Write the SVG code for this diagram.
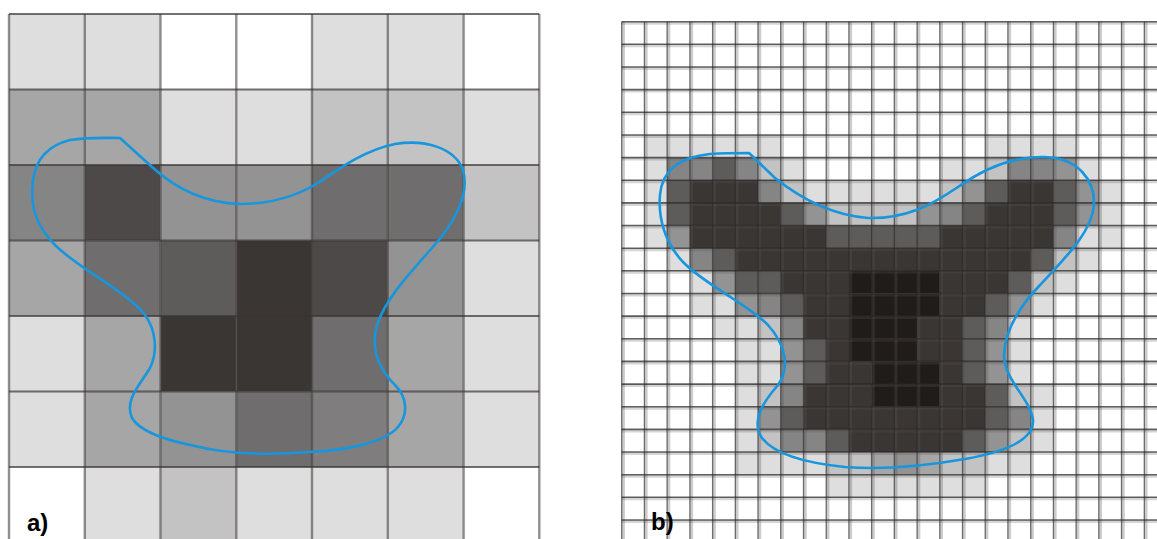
<svg xmlns="http://www.w3.org/2000/svg" width="1157" height="539" viewBox="0 0 1157 539">
<style>
.w{fill:#ffffff}.l{fill:#dedede}.m1{fill:#c3c3c3}.m2{fill:#a6a6a6}.m3{fill:#939393}.m4{fill:#858585}.g6{fill:#6f6d6d}.g7{fill:#7f7d7d}.m5{fill:#5e5c5b}.g4{fill:#4d4948}.d{fill:#3a3633}.v{fill:#201c1a}
.vb{fill:none;stroke:#5a5656;stroke-opacity:0.3;stroke-width:3.4}
.vl{fill:none;stroke:#2a2626;stroke-opacity:0.62;stroke-width:1.3}
.hb{fill:none;stroke:#5a5656;stroke-opacity:0.25;stroke-width:3}
.hl{fill:none;stroke:#2a2626;stroke-opacity:0.72;stroke-width:1.6}
.lvl{fill:none;stroke:#4a4545;stroke-opacity:0.6;stroke-width:2.4}
.lhl{fill:none;stroke:#3a3535;stroke-opacity:0.7;stroke-width:2}
.curve{fill:none;stroke:#1796de;stroke-width:2.6;stroke-linejoin:round}
.lbl{font-family:"Liberation Sans",Arial,sans-serif;font-weight:bold;font-size:24px;fill:#000}
</style>
<rect x="0" y="0" width="1157" height="539" fill="#ffffff"/>
<g id="panel-a">
<g id="cells-a">
<rect class="l" x="9" y="14" width="75.8" height="75.5"/><rect class="l" x="84.8" y="14" width="75.8" height="75.5"/><rect class="w" x="160.5" y="14" width="75.8" height="75.5"/><rect class="w" x="236.3" y="14" width="75.8" height="75.5"/><rect class="l" x="312" y="14" width="75.8" height="75.5"/><rect class="l" x="387.8" y="14" width="75.8" height="75.5"/><rect class="w" x="463.6" y="14" width="75.8" height="75.5"/>
<rect class="m2" x="9" y="89.5" width="75.8" height="75.5"/><rect class="m2" x="84.8" y="89.5" width="75.8" height="75.5"/><rect class="l" x="160.5" y="89.5" width="75.8" height="75.5"/><rect class="l" x="236.3" y="89.5" width="75.8" height="75.5"/><rect class="m1" x="312" y="89.5" width="75.8" height="75.5"/><rect class="m1" x="387.8" y="89.5" width="75.8" height="75.5"/><rect class="l" x="463.6" y="89.5" width="75.8" height="75.5"/>
<rect class="m4" x="9" y="165" width="75.8" height="75.5"/><rect class="g4" x="84.8" y="165" width="75.8" height="75.5"/><rect class="m3" x="160.5" y="165" width="75.8" height="75.5"/><rect class="m3" x="236.3" y="165" width="75.8" height="75.5"/><rect class="g6" x="312" y="165" width="75.8" height="75.5"/><rect class="g6" x="387.8" y="165" width="75.8" height="75.5"/><rect class="m1" x="463.6" y="165" width="75.8" height="75.5"/>
<rect class="m2" x="9" y="240.5" width="75.8" height="75.5"/><rect class="g6" x="84.8" y="240.5" width="75.8" height="75.5"/><rect class="m5" x="160.5" y="240.5" width="75.8" height="75.5"/><rect class="d" x="236.3" y="240.5" width="75.8" height="75.5"/><rect class="g4" x="312" y="240.5" width="75.8" height="75.5"/><rect class="m3" x="387.8" y="240.5" width="75.8" height="75.5"/><rect class="l" x="463.6" y="240.5" width="75.8" height="75.5"/>
<rect class="l" x="9" y="316" width="75.8" height="75.5"/><rect class="m2" x="84.8" y="316" width="75.8" height="75.5"/><rect class="d" x="160.5" y="316" width="75.8" height="75.5"/><rect class="d" x="236.3" y="316" width="75.8" height="75.5"/><rect class="g6" x="312" y="316" width="75.8" height="75.5"/><rect class="m2" x="387.8" y="316" width="75.8" height="75.5"/><rect class="l" x="463.6" y="316" width="75.8" height="75.5"/>
<rect class="l" x="9" y="391.5" width="75.8" height="75.5"/><rect class="m2" x="84.8" y="391.5" width="75.8" height="75.5"/><rect class="m3" x="160.5" y="391.5" width="75.8" height="75.5"/><rect class="g6" x="236.3" y="391.5" width="75.8" height="75.5"/><rect class="g7" x="312" y="391.5" width="75.8" height="75.5"/><rect class="m2" x="387.8" y="391.5" width="75.8" height="75.5"/><rect class="l" x="463.6" y="391.5" width="75.8" height="75.5"/>
<rect class="w" x="9" y="467" width="75.8" height="72"/><rect class="l" x="84.8" y="467" width="75.8" height="72"/><rect class="m1" x="160.5" y="467" width="75.8" height="72"/><rect class="l" x="236.3" y="467" width="75.8" height="72"/><rect class="l" x="312" y="467" width="75.8" height="72"/><rect class="l" x="387.8" y="467" width="75.8" height="72"/><rect class="w" x="463.6" y="467" width="75.8" height="72"/>
</g>
<path class="lvl" d="M9 14V539M84.8 14V539M160.5 14V539M236.3 14V539M312 14V539M387.8 14V539M463.6 14V539M539.3 14V539"/>
<path class="lhl" d="M9 14H539.3M9 89.5H539.3M9 165H539.3M9 240.5H539.3M9 316H539.3M9 391.5H539.3M9 467H539.3"/>
<path class="curve" d="M120 138 L152 167 C175 188 205 203 240 204 C275 204 300 194 318 183 C340 168 365 150 395 144 C425 139 455 148 463 170 C470 195 455 222 432 248 C408 275 385 300 377 325 C370 350 380 370 395 385 C408 398 408 415 398 427 C385 442 350 450 310 452 C270 455 230 455 195 446 C165 440 140 432 132 418 C124 400 140 385 150 368 C158 352 156 330 145 315 C125 290 80 270 55 245 C35 225 30 205 33 180 C36 158 50 145 70 140 C90 137 105 138 120 138 Z"/>
<text class="lbl" x="27" y="531">a)</text>
</g>
<g id="panel-b">
<g id="cells-b">
<rect class="l" x="644.4" y="135" width="136.3" height="22.7"/><rect class="l" x="985.2" y="135" width="90.9" height="22.7"/>
<rect class="l" x="644.4" y="157.6" width="22.7" height="22.7"/><rect class="m4" x="667.1" y="157.6" width="45.4" height="22.7"/><rect class="m5" x="712.6" y="157.6" width="22.7" height="22.7"/><rect class="m4" x="735.3" y="157.6" width="22.7" height="22.7"/><rect class="m1" x="758" y="157.6" width="22.7" height="22.7"/><rect class="l" x="780.7" y="157.6" width="22.7" height="22.7"/><rect class="l" x="939.8" y="157.6" width="45.4" height="22.7"/><rect class="m1" x="985.2" y="157.6" width="22.7" height="22.7"/><rect class="m4" x="1007.9" y="157.6" width="45.4" height="22.7"/><rect class="m3" x="1053.4" y="157.6" width="22.7" height="22.7"/><rect class="l" x="1076.1" y="157.6" width="22.7" height="22.7"/>
<rect class="l" x="644.4" y="180.2" width="22.7" height="22.7"/><rect class="m5" x="667.1" y="180.2" width="22.7" height="22.7"/><rect class="d" x="689.9" y="180.2" width="68.2" height="22.7"/><rect class="m4" x="758" y="180.2" width="22.7" height="22.7"/><rect class="m1" x="780.7" y="180.2" width="22.7" height="22.7"/><rect class="l" x="803.5" y="180.2" width="136.3" height="22.7"/><rect class="m1" x="939.8" y="180.2" width="22.7" height="22.7"/><rect class="m3" x="962.5" y="180.2" width="22.7" height="22.7"/><rect class="m5" x="985.2" y="180.2" width="22.7" height="22.7"/><rect class="d" x="1007.9" y="180.2" width="45.4" height="22.7"/><rect class="m5" x="1053.4" y="180.2" width="22.7" height="22.7"/><rect class="m3" x="1076.1" y="180.2" width="22.7" height="22.7"/><rect class="l" x="1098.8" y="180.2" width="22.7" height="22.7"/>
<rect class="l" x="644.4" y="202.9" width="22.7" height="22.7"/><rect class="m5" x="667.1" y="202.9" width="22.7" height="22.7"/><rect class="d" x="689.9" y="202.9" width="90.9" height="22.7"/><rect class="m5" x="780.7" y="202.9" width="22.7" height="22.7"/><rect class="m3" x="803.5" y="202.9" width="22.7" height="22.7"/><rect class="m1" x="826.2" y="202.9" width="90.9" height="22.7"/><rect class="m3" x="917.1" y="202.9" width="22.7" height="22.7"/><rect class="m4" x="939.8" y="202.9" width="22.7" height="22.7"/><rect class="m5" x="962.5" y="202.9" width="22.7" height="22.7"/><rect class="d" x="985.2" y="202.9" width="68.2" height="22.7"/><rect class="m5" x="1053.4" y="202.9" width="22.7" height="22.7"/><rect class="m3" x="1076.1" y="202.9" width="22.7" height="22.7"/><rect class="l" x="1098.8" y="202.9" width="22.7" height="22.7"/>
<rect class="l" x="644.4" y="225.5" width="22.7" height="22.7"/><rect class="m3" x="667.1" y="225.5" width="22.7" height="22.7"/><rect class="d" x="689.9" y="225.5" width="136.3" height="22.7"/><rect class="m5" x="826.2" y="225.5" width="113.6" height="22.7"/><rect class="d" x="939.8" y="225.5" width="113.6" height="22.7"/><rect class="m4" x="1053.4" y="225.5" width="22.7" height="22.7"/><rect class="l" x="1076.1" y="225.5" width="45.4" height="22.7"/>
<rect class="l" x="667.1" y="248.2" width="22.7" height="22.7"/><rect class="m4" x="689.9" y="248.2" width="22.7" height="22.7"/><rect class="m5" x="712.6" y="248.2" width="22.7" height="22.7"/><rect class="d" x="735.3" y="248.2" width="295.4" height="22.7"/><rect class="m5" x="1030.7" y="248.2" width="22.7" height="22.7"/><rect class="m1" x="1053.4" y="248.2" width="22.7" height="22.7"/><rect class="l" x="1076.1" y="248.2" width="22.7" height="22.7"/>
<rect class="l" x="689.9" y="270.8" width="22.7" height="22.7"/><rect class="m3" x="712.6" y="270.8" width="22.7" height="22.7"/><rect class="m5" x="735.3" y="270.8" width="45.4" height="22.7"/><rect class="d" x="780.7" y="270.8" width="68.2" height="22.7"/><rect class="v" x="848.9" y="270.8" width="90.9" height="22.7"/><rect class="d" x="939.8" y="270.8" width="68.2" height="22.7"/><rect class="m5" x="1007.9" y="270.8" width="22.7" height="22.7"/><rect class="m1" x="1030.7" y="270.8" width="22.7" height="22.7"/><rect class="l" x="1053.4" y="270.8" width="22.7" height="22.7"/>
<rect class="l" x="689.9" y="293.5" width="45.4" height="22.7"/><rect class="m3" x="735.3" y="293.5" width="22.7" height="22.7"/><rect class="m4" x="758" y="293.5" width="22.7" height="22.7"/><rect class="m5" x="780.7" y="293.5" width="22.7" height="22.7"/><rect class="d" x="803.5" y="293.5" width="45.4" height="22.7"/><rect class="v" x="848.9" y="293.5" width="90.9" height="22.7"/><rect class="d" x="939.8" y="293.5" width="45.4" height="22.7"/><rect class="m5" x="985.2" y="293.5" width="22.7" height="22.7"/><rect class="m3" x="1007.9" y="293.5" width="22.7" height="22.7"/><rect class="l" x="1030.7" y="293.5" width="22.7" height="22.7"/>
<rect class="l" x="712.6" y="316.1" width="45.4" height="22.7"/><rect class="m1" x="758" y="316.1" width="22.7" height="22.7"/><rect class="m4" x="780.7" y="316.1" width="22.7" height="22.7"/><rect class="d" x="803.5" y="316.1" width="45.4" height="22.7"/><rect class="v" x="848.9" y="316.1" width="68.2" height="22.7"/><rect class="d" x="917.1" y="316.1" width="45.4" height="22.7"/><rect class="m5" x="962.5" y="316.1" width="22.7" height="22.7"/><rect class="m4" x="985.2" y="316.1" width="22.7" height="22.7"/><rect class="l" x="1007.9" y="316.1" width="22.7" height="22.7"/>
<rect class="l" x="735.3" y="338.8" width="45.4" height="22.7"/><rect class="m3" x="780.7" y="338.8" width="22.7" height="22.7"/><rect class="m5" x="803.5" y="338.8" width="22.7" height="22.7"/><rect class="d" x="826.2" y="338.8" width="22.7" height="22.7"/><rect class="v" x="848.9" y="338.8" width="68.2" height="22.7"/><rect class="d" x="917.1" y="338.8" width="45.4" height="22.7"/><rect class="m5" x="962.5" y="338.8" width="22.7" height="22.7"/><rect class="m3" x="985.2" y="338.8" width="22.7" height="22.7"/><rect class="l" x="1007.9" y="338.8" width="22.7" height="22.7"/>
<rect class="l" x="735.3" y="361.4" width="45.4" height="22.7"/><rect class="m3" x="780.7" y="361.4" width="22.7" height="22.7"/><rect class="m5" x="803.5" y="361.4" width="22.7" height="22.7"/><rect class="d" x="826.2" y="361.4" width="45.4" height="22.7"/><rect class="v" x="871.6" y="361.4" width="68.2" height="22.7"/><rect class="d" x="939.8" y="361.4" width="22.7" height="22.7"/><rect class="m5" x="962.5" y="361.4" width="22.7" height="22.7"/><rect class="m3" x="985.2" y="361.4" width="22.7" height="22.7"/><rect class="l" x="1007.9" y="361.4" width="22.7" height="22.7"/>
<rect class="l" x="735.3" y="384.1" width="22.7" height="22.7"/><rect class="m1" x="758" y="384.1" width="22.7" height="22.7"/><rect class="m4" x="780.7" y="384.1" width="22.7" height="22.7"/><rect class="d" x="803.5" y="384.1" width="68.2" height="22.7"/><rect class="v" x="871.6" y="384.1" width="68.2" height="22.7"/><rect class="d" x="939.8" y="384.1" width="45.4" height="22.7"/><rect class="m5" x="985.2" y="384.1" width="22.7" height="22.7"/><rect class="m1" x="1007.9" y="384.1" width="22.7" height="22.7"/><rect class="l" x="1030.7" y="384.1" width="22.7" height="22.7"/>
<rect class="l" x="735.3" y="406.7" width="22.7" height="22.7"/><rect class="m3" x="758" y="406.7" width="22.7" height="22.7"/><rect class="m5" x="780.7" y="406.7" width="22.7" height="22.7"/><rect class="d" x="803.5" y="406.7" width="181.8" height="22.7"/><rect class="m5" x="985.2" y="406.7" width="22.7" height="22.7"/><rect class="m4" x="1007.9" y="406.7" width="22.7" height="22.7"/><rect class="l" x="1030.7" y="406.7" width="22.7" height="22.7"/>
<rect class="l" x="735.3" y="429.4" width="22.7" height="22.7"/><rect class="m1" x="758" y="429.4" width="22.7" height="22.7"/><rect class="m4" x="780.7" y="429.4" width="45.4" height="22.7"/><rect class="m5" x="826.2" y="429.4" width="22.7" height="22.7"/><rect class="d" x="848.9" y="429.4" width="113.6" height="22.7"/><rect class="m5" x="962.5" y="429.4" width="22.7" height="22.7"/><rect class="m3" x="985.2" y="429.4" width="22.7" height="22.7"/><rect class="m1" x="1007.9" y="429.4" width="22.7" height="22.7"/><rect class="l" x="1030.7" y="429.4" width="22.7" height="22.7"/>
<rect class="l" x="735.3" y="452" width="90.9" height="22.7"/><rect class="m1" x="826.2" y="452" width="45.4" height="22.7"/><rect class="m2" x="871.6" y="452" width="22.7" height="22.7"/><rect class="m3" x="894.3" y="452" width="22.7" height="22.7"/><rect class="m2" x="917.1" y="452" width="22.7" height="22.7"/><rect class="m1" x="939.8" y="452" width="45.4" height="22.7"/><rect class="l" x="985.2" y="452" width="45.4" height="22.7"/>
<rect class="l" x="826.2" y="474.7" width="159" height="22.7"/>
</g>
<path class="vb" d="M623.2 21.7V539M645.9 21.7V539M668.6 21.7V539M691.4 21.7V539M714.1 21.7V539M736.8 21.7V539M759.5 21.7V539M782.2 21.7V539M805 21.7V539M827.7 21.7V539M850.4 21.7V539M873.1 21.7V539M895.8 21.7V539M918.6 21.7V539M941.3 21.7V539M964 21.7V539M986.7 21.7V539M1009.4 21.7V539M1032.2 21.7V539M1054.9 21.7V539M1077.6 21.7V539M1100.3 21.7V539M1123 21.7V539M1145.8 21.7V539"/>
<path class="hb" d="M621.7 23.2H1157M621.7 45.8H1157M621.7 68.5H1157M621.7 91.1H1157M621.7 113.8H1157M621.7 136.5H1157M621.7 159.1H1157M621.7 181.7H1157M621.7 204.4H1157M621.7 227H1157M621.7 249.7H1157M621.7 272.3H1157M621.7 295H1157M621.7 317.6H1157M621.7 340.3H1157M621.7 362.9H1157M621.7 385.6H1157M621.7 408.2H1157M621.7 430.9H1157M621.7 453.5H1157M621.7 476.2H1157M621.7 498.8H1157M621.7 521.5H1157"/>
<path class="vl" d="M621.7 21.7V539M644.4 21.7V539M667.1 21.7V539M689.9 21.7V539M712.6 21.7V539M735.3 21.7V539M758 21.7V539M780.7 21.7V539M803.5 21.7V539M826.2 21.7V539M848.9 21.7V539M871.6 21.7V539M894.3 21.7V539M917.1 21.7V539M939.8 21.7V539M962.5 21.7V539M985.2 21.7V539M1007.9 21.7V539M1030.7 21.7V539M1053.4 21.7V539M1076.1 21.7V539M1098.8 21.7V539M1121.5 21.7V539M1144.3 21.7V539"/>
<path class="hl" d="M621.7 21.7H1157M621.7 44.3H1157M621.7 67H1157M621.7 89.6H1157M621.7 112.3H1157M621.7 135H1157M621.7 157.6H1157M621.7 180.2H1157M621.7 202.9H1157M621.7 225.5H1157M621.7 248.2H1157M621.7 270.8H1157M621.7 293.5H1157M621.7 316.1H1157M621.7 338.8H1157M621.7 361.4H1157M621.7 384.1H1157M621.7 406.7H1157M621.7 429.4H1157M621.7 452H1157M621.7 474.7H1157M621.7 497.3H1157M621.7 520H1157"/>
<path class="curve" d="M749 153 L775 178 C800 198 830 215 868 218 C905 219 930 206 958 187 C985 168 1015 156 1045 157 C1078 158 1095 180 1094 205 C1092 232 1065 258 1040 285 C1018 308 1005 330 1004 355 C1004 380 1030 398 1033 420 C1034 440 1005 452 965 459 C925 466 885 470 845 467 C805 463 775 455 762 438 C750 420 765 400 778 385 C790 368 786 345 768 325 C745 302 705 285 683 262 C665 243 658 218 660 195 C662 170 680 157 710 154 C725 153 738 153 749 153 Z"/>
<text class="lbl" x="651" y="530">b)</text>
</g>
</svg>
